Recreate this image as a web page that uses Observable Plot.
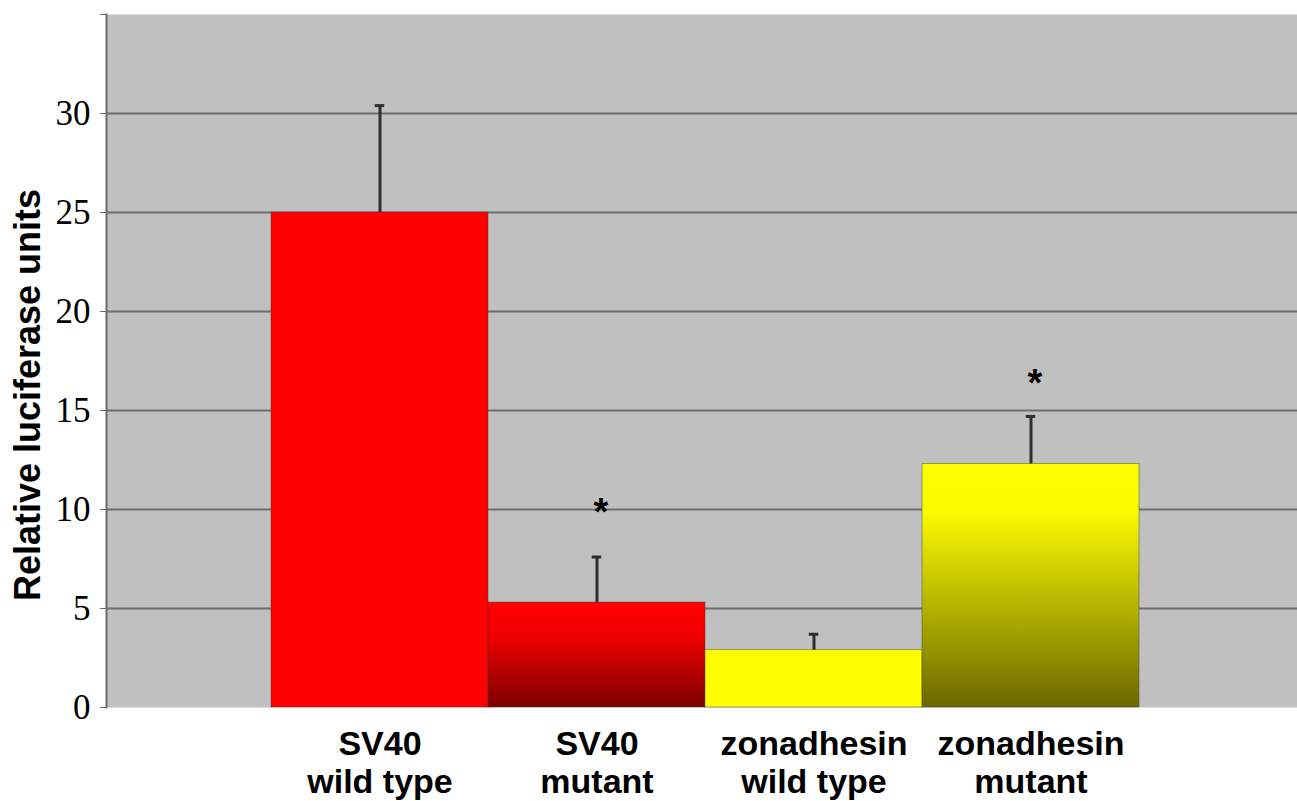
<!DOCTYPE html>
<html>
<head>
<meta charset="utf-8">
<script src="https://cdn.jsdelivr.net/npm/d3@7"></script>
<script src="https://cdn.jsdelivr.net/npm/@observablehq/plot@0.6"></script>
<style>
  html, body { margin: 0; padding: 0; background: #ffffff; }
  #chart svg { display: block; }
</style>
</head>
<body>
<div id="chart"></div>
<script>
// ---- data ----
const categories = ["SV40\nwild type", "SV40\nmutant", "zonadhesin\nwild type", "zonadhesin\nmutant"];
const values = [25.0, 5.3, 2.9, 12.3];
const errorTops = [30.4, 7.6, 3.7, 14.7];
const asteriskLevels = [null, 10.3, null, 16.8];
const yTicks = [0, 5, 10, 15, 20, 25, 30];
const yMax = 35;
const yTitle = "Relative luciferase units";

// ---- styles (by category index) ----
const fills = ["#ff0000", "url(#gradRed)", "#ffff00", "url(#gradYellow)"];

const rows = categories.map((c, i) => ({
  cat: c, value: values[i], err: errorTops[i], star: asteriskLevels[i], fill: fills[i]
}));

const W = 1297, H = 801;
const mL = 106, mR = 0, mT = 14, mB = 94;
const po = 0.738;
const bw = (W - mL - mR) / (4 + 2 * po);
const capW = 10;

const plot = Plot.plot({
  width: W,
  height: H,
  marginLeft: mL,
  marginRight: mR,
  marginTop: mT,
  marginBottom: mB,
  style: { background: "transparent", overflow: "visible" },
  x: { domain: categories, paddingInner: 0, paddingOuter: po, align: 0.51, label: null },
  y: { domain: [0, yMax], label: null },
  color: { type: "identity" },
  marks: [
    Plot.frame({ fill: "#c0c0c0", stroke: null }),
    Plot.gridY(yTicks.filter(t => t > 0), { stroke: "#6e6e6e", strokeOpacity: 1, strokeWidth: 2 }),
    Plot.frame({ anchor: "left", stroke: "#6a6a6a", strokeWidth: 2 }),
    Plot.barY(rows, { x: "cat", y: "value", fill: "fill", stroke: "#3a3a3a", strokeOpacity: 0.45, strokeWidth: 1 }),
    Plot.ruleX(rows, { x: "cat", y1: "value", y2: "err", stroke: "#2e2e2e", strokeWidth: 3 }),
    Plot.tickY(rows, { x: "cat", y: "err", stroke: "#2e2e2e", strokeWidth: 3,
      insetLeft: (bw - capW) / 2, insetRight: (bw - capW) / 2 }),
    Plot.text(rows.filter(d => d.star != null), { x: "cat", y: "star", text: () => "*", dy: 9, dx: 4,
      lineAnchor: "middle",
      fontSize: 38, fontWeight: "bold", fontFamily: "Liberation Sans, Arial, sans-serif", fill: "#000" }),
    Plot.axisY({ ticks: yTicks, tickSize: 6, tickPadding: 10, fontSize: 35,
      fontFamily: "Liberation Serif, Times New Roman, serif", stroke: "#6a6a6a", fill: "#000", label: null }),
    Plot.axisY({ ticks: [yMax], tickSize: 6, tickFormat: () => "", stroke: "#6a6a6a", label: null }),
    Plot.axisX({ tickSize: 0, tickPadding: 20, fontSize: 34, fontWeight: "bold", lineHeight: 1.12,
      fontFamily: "Liberation Sans, Arial, sans-serif", fill: "#000", label: null })
  ]
});

// gradients for the mutant bars
const svg = d3.select(plot);
const defs = svg.insert("defs", ":first-child");
const g1 = defs.append("linearGradient").attr("id", "gradRed").attr("x1", 0).attr("y1", 0).attr("x2", 0).attr("y2", 1);
g1.append("stop").attr("offset", "0%").attr("stop-color", "#ff0000");
g1.append("stop").attr("offset", "30%").attr("stop-color", "#f40000");
g1.append("stop").attr("offset", "100%").attr("stop-color", "#7c0000");
const g2 = defs.append("linearGradient").attr("id", "gradYellow").attr("x1", 0).attr("y1", 0).attr("x2", 0).attr("y2", 1);
g2.append("stop").attr("offset", "0%").attr("stop-color", "#ffff00");
g2.append("stop").attr("offset", "20%").attr("stop-color", "#fafa00");
g2.append("stop").attr("offset", "100%").attr("stop-color", "#6c6800");

// rotated y-axis title
svg.append("text")
  .attr("transform", "translate(27,395) rotate(-90)")
  .attr("text-anchor", "middle")
  .attr("dominant-baseline", "central")
  .attr("font-family", "Liberation Sans, Arial, sans-serif")
  .attr("font-weight", "bold")
  .attr("font-size", 36)
  .attr("fill", "#000")
  .text(yTitle);

document.getElementById("chart").appendChild(plot);
</script>
</body>
</html>
